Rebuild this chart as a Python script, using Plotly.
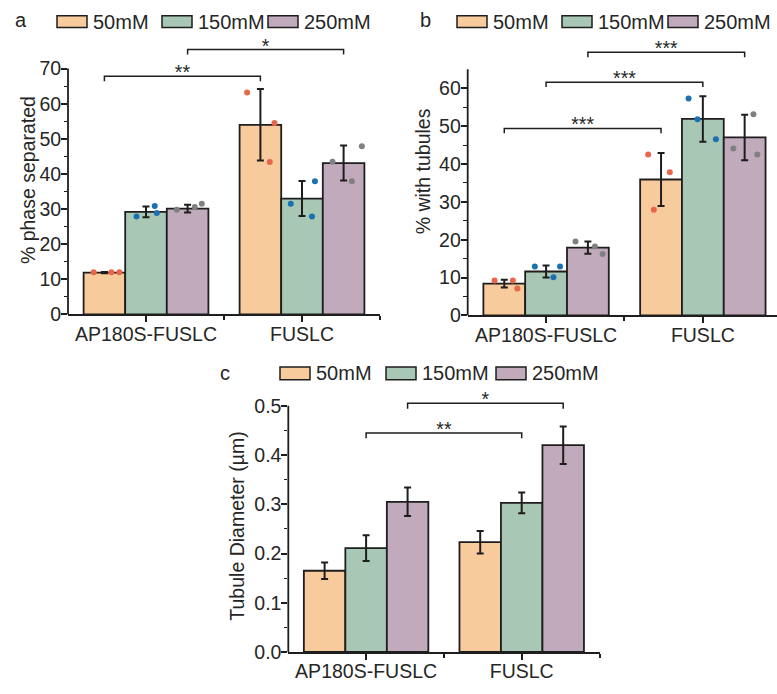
import plotly.graph_objects as go

# ---------------- data ----------------
CATEGORIES = ["AP180S-FUSLC", "FUSLC"]
SERIES = ["50mM", "150mM", "250mM"]

# Panel a: % phase separated
A_MEAN_50 = [11.9, 54.0]
A_MEAN_150 = [29.2, 33.0]
A_MEAN_250 = [30.1, 43.1]
A_ERR_50 = [0.2, 10.2]
A_ERR_150 = [1.5, 5.0]
A_ERR_250 = [1.1, 5.0]
A_PTS_50 = [[12.0, 12.0, 12.0], [63.2, 54.5, 43.4]]
A_PTS_150 = [[27.9, 30.9, 28.9], [31.5, 37.9, 27.9]]
A_PTS_250 = [[29.8, 30.6, 31.5], [43.5, 47.9, 37.9]]
A_TICKS = [0, 10, 20, 30, 40, 50, 60, 70]

# Panel b: % with tubules
B_MEAN_50 = [8.4, 35.9]
B_MEAN_150 = [11.6, 51.9]
B_MEAN_250 = [17.9, 47.0]
B_ERR_50 = [1.0, 7.0]
B_ERR_150 = [1.6, 6.0]
B_ERR_250 = [1.6, 6.0]
B_PTS_50 = [[9.2, 9.2, 7.1], [42.5, 37.8, 27.9]]
B_PTS_150 = [[12.9, 10.1, 12.9], [57.3, 51.8, 46.5]]
B_PTS_250 = [[19.5, 18.2, 16.2], [44.1, 53.1, 42.5]]
B_TICKS = [0, 10, 20, 30, 40, 50, 60]

# Panel c: tubule diameter (um)
C_MEAN_50 = [0.165, 0.223]
C_MEAN_150 = [0.211, 0.303]
C_MEAN_250 = [0.305, 0.420]
C_ERR_50 = [0.017, 0.023]
C_ERR_150 = [0.026, 0.021]
C_ERR_250 = [0.029, 0.038]
C_TICKS = [0.0, 0.1, 0.2, 0.3, 0.4, 0.5]

# significance brackets: (cat left, series left, cat right, series right, height, label)
A_SIG = [(0, 0, 1, 0, 67.8, "**"), (0, 2, 1, 2, 75.4, "*")]
B_SIG = [(0, 0, 1, 0, 49.4, "***"), (0, 1, 1, 1, 61.6, "***"), (0, 2, 1, 2, 69.5, "***")]
C_SIG = [(0, 1, 1, 1, 0.445, "**"), (0, 2, 1, 2, 0.505, "*")]

# ---------------- style ----------------
FONT = "Liberation Sans, Arial, Helvetica, sans-serif"
TXT = "#262626"
EDGE = "#1e1e1e"
FILL = ["#F8CB9C", "#A9C7B5", "#C0AABB"]
DOT = ["#E8674A", "#1B70B1", "#808082"]
FS = 19.5
LFS = 20
W, H = 777, 694          # reference frame used for all paper positions
SLOT = 0.8 / 3           # width of one bar in category units (bargap 0.2)
STAR_GAP_PX = 8          # star text sits this far below the default "top center" spot

# jitter of replicate dots (in category units) for visual placement
A_JIT = [
    [[-0.069, 0.045, 0.096], [-0.085, 0.090, 0.060]],
    [[-0.061, 0.056, 0.069], [-0.072, 0.083, 0.064]],
    [[-0.069, 0.046, 0.091], [-0.071, 0.117, 0.053]],
]
B_JIT = [
    [[-0.062, 0.055, 0.083], [-0.082, 0.056, -0.046]],
    [[-0.072, 0.047, 0.089], [-0.091, -0.034, 0.083]],
    [[-0.079, 0.045, 0.094], [-0.072, 0.056, 0.081]],
]


def px_x(v):
    return v / W


def px_y(v):
    return 1 - v / H


panels = [
    dict(xa="x", ya="y", title="% phase separated", title_xy=(28, 180),
         means=[A_MEAN_50, A_MEAN_150, A_MEAN_250],
         errs=[A_ERR_50, A_ERR_150, A_ERR_250],
         pts=[A_PTS_50, A_PTS_150, A_PTS_250], jit=A_JIT,
         sig=A_SIG, drop=1.4, ticks=A_TICKS, minor=5, fmt="d",
         xdom=(68, 380), xrange=[-0.5, 1.5],
         zero_px=317.3, unit_px=3.59, ymax=77.0),
    dict(xa="x2", ya="y2", title="% with tubules", title_xy=(423, 171),
         means=[B_MEAN_50, B_MEAN_150, B_MEAN_250],
         errs=[B_ERR_50, B_ERR_150, B_ERR_250],
         pts=[B_PTS_50, B_PTS_150, B_PTS_250], jit=B_JIT,
         sig=B_SIG, drop=1.3, ticks=B_TICKS, minor=5, fmt="d",
         xdom=(467.7, 777), xrange=[-0.5, 1.473],
         zero_px=318.3, unit_px=3.87, ymax=71.0, axis_top=65),
    dict(xa="x3", ya="y3", title="Tubule Diameter (µm)", title_xy=(236.7, 533.5),
         means=[C_MEAN_50, C_MEAN_150, C_MEAN_250],
         errs=[C_ERR_50, C_ERR_150, C_ERR_250],
         pts=None, jit=None,
         sig=C_SIG, drop=0.011, ticks=C_TICKS, minor=0.05, fmt=".1f",
         xdom=(288.3, 599.5), xrange=[-0.5, 1.5],
         zero_px=662.3, unit_px=503.2, ymax=0.515),
]

fig = go.Figure()
cat_x = list(range(len(CATEGORIES)))

for p in panels:
    for j, name in enumerate(SERIES):
        fig.add_trace(go.Bar(
            x=cat_x, y=p["means"][j], name=name, showlegend=False,
            marker=dict(color=FILL[j], line=dict(color=EDGE, width=1.8)),
            error_y=dict(type="data", array=p["errs"][j], color=EDGE,
                         thickness=2, width=3.5),
            xaxis=p["xa"], yaxis=p["ya"], hoverinfo="skip",
        ))
    if p["pts"] is not None:
        for j, name in enumerate(SERIES):
            xs, ys = [], []
            for i in cat_x:
                for k, v in enumerate(p["pts"][j][i]):
                    xs.append(i + (j - 1) * SLOT + p["jit"][j][i][k])
                    ys.append(v)
            fig.add_trace(go.Scatter(
                x=xs, y=ys, mode="markers", showlegend=False,
                marker=dict(size=6, color=DOT[j], line=dict(width=0)),
                xaxis=p["xa"], yaxis=p["ya"], cliponaxis=False, hoverinfo="skip",
            ))
    for (c1, s1, c2, s2, h, lab) in p["sig"]:
        x1 = c1 + (s1 - 1) * SLOT
        x2 = c2 + (s2 - 1) * SLOT
        xm = (x1 + x2) / 2
        d = p["drop"]
        fig.add_trace(go.Scatter(
            x=[x1, x1, x2, x2], y=[h - d, h, h, h - d], mode="lines",
            line=dict(color=EDGE, width=1.5), showlegend=False,
            xaxis=p["xa"], yaxis=p["ya"], cliponaxis=False, hoverinfo="skip",
        ))
        fig.add_trace(go.Scatter(
            x=[xm], y=[h - STAR_GAP_PX / p["unit_px"]], mode="text", text=[lab],
            textposition="top center",
            textfont=dict(family=FONT, size=FS, color=TXT), showlegend=False,
            xaxis=p["xa"], yaxis=p["ya"], cliponaxis=False, hoverinfo="skip",
        ))

tickfont = dict(family=FONT, size=FS, color=TXT)
# width is fixed; height follows the browser viewport (paper-relative layout)
layout = dict(
    width=W, autosize=True, margin=dict(l=0, r=0, t=0, b=0),
    paper_bgcolor="white", plot_bgcolor="white",
    barmode="group", bargap=0.2, bargroupgap=0.0,
    font=dict(family=FONT, color=TXT),
)

for n, p in enumerate(panels, start=1):
    sfx = "" if n == 1 else str(n)
    top_tick = p.get("axis_top", p["ticks"][-1])
    minor_vals = []
    v = p["ticks"][0] + p["minor"]
    while v < top_tick - 1e-9:
        minor_vals.append(round(v, 4))
        v += 2 * p["minor"]
    layout["xaxis" + sfx] = dict(
        domain=[px_x(p["xdom"][0]), min(1.0, px_x(p["xdom"][1]))], range=p["xrange"],
        anchor="y" + sfx, showline=True, linecolor=EDGE, linewidth=1.8,
        ticks="outside", ticklen=6, tickwidth=1.5, tickcolor=EDGE,
        showgrid=False, zeroline=False, tickfont=tickfont, ticklabelstandoff=-5,
        tickmode="array", tickvals=cat_x, ticktext=CATEGORIES,
        minor=dict(tickmode="array", tickvals=[0.5, 1.5], ticks="outside",
                   ticklen=4, tickwidth=1.5, tickcolor=EDGE),
    )
    layout["yaxis" + sfx] = dict(
        domain=[px_y(p["zero_px"]), px_y(p["zero_px"] - p["ymax"] * p["unit_px"])],
        range=[0, p["ymax"]], anchor="x" + sfx,
        showline=False, ticks="outside", ticklen=6, tickwidth=1.5, tickcolor=EDGE,
        showgrid=False, zeroline=False, tickfont=tickfont, ticklabelstandoff=-4,
        tickmode="array", tickvals=p["ticks"],
        ticktext=[format(t, p["fmt"]) if p["fmt"] != "d" else str(int(t)) for t in p["ticks"]],
        minor=dict(tickmode="array", tickvals=minor_vals, ticks="outside",
                   ticklen=3.5, tickwidth=1.3, tickcolor=EDGE),
    )
    # y axis line only up to the top of the scale (brackets sit above it)
    fig.add_shape(type="line", xref=p["xa"] + " domain", yref=p["ya"],
                  x0=0, x1=0, y0=0, y1=top_tick, line=dict(color=EDGE, width=1.8))
    tx, ty = p["title_xy"]
    fig.add_annotation(x=px_x(tx), y=px_y(ty), xref="paper", yref="paper", text=p["title"],
                       textangle=-90, showarrow=False, xanchor="center", yanchor="middle",
                       font=dict(family=FONT, size=FS, color=TXT))

fig.update_layout(**layout)

# manual legends (one per panel) + panel letters
legend_specs = [
    dict(letter="a", letter_xy=(21, 16), box_x=[57, 162, 268], box_y=(12, 24)),
    dict(letter="b", letter_xy=(425, 16), box_x=[457, 562, 668], box_y=(12, 24)),
    dict(letter="c", letter_xy=(225, 377), box_x=[280, 386, 496], box_y=(371, 384)),
]
for spec in legend_specs:
    lx, ly = spec["letter_xy"]
    fig.add_annotation(x=px_x(lx), y=px_y(ly), xref="paper", yref="paper",
                       text=spec["letter"], showarrow=False, xanchor="center", yanchor="middle",
                       font=dict(family=FONT, size=LFS, color=TXT))
    y0, y1 = spec["box_y"]
    for j, name in enumerate(SERIES):
        bx = spec["box_x"][j]
        fig.add_shape(type="rect", xref="paper", yref="paper",
                      x0=px_x(bx), x1=px_x(bx + 30), y0=px_y(y1), y1=px_y(y0),
                      fillcolor=FILL[j], line=dict(color=EDGE, width=1.5))
        fig.add_annotation(x=px_x(bx + 34), y=px_y((y0 + y1) / 2), xref="paper", yref="paper",
                           text=name, showarrow=False, xanchor="left", yanchor="middle",
                           font=dict(family=FONT, size=LFS, color=TXT))

fig.write_html(
    "out.html",
    config={"displayModeBar": False},
    default_height="100vh",
    post_script="document.body.style.margin='0';document.body.style.padding='0';document.documentElement.style.overflow='hidden';",
)
